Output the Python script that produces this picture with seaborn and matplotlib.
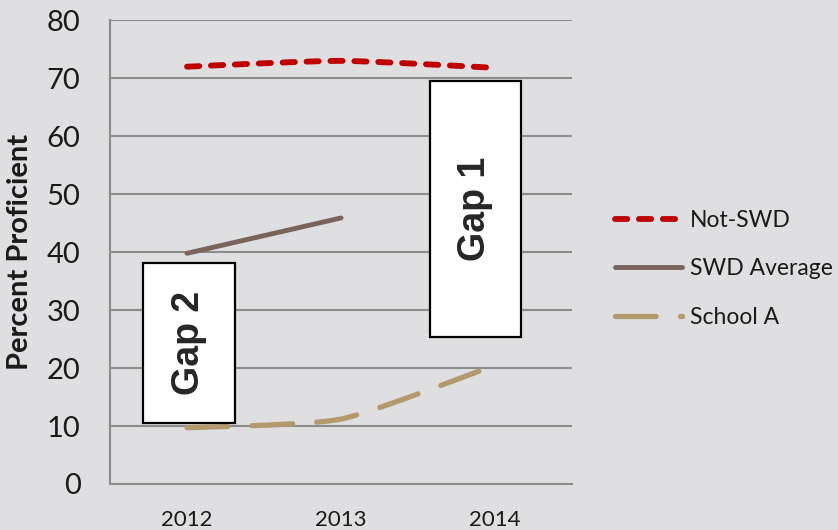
import numpy as np
import pandas as pd
import matplotlib
matplotlib.use("Agg")
import matplotlib.pyplot as plt
from matplotlib.patches import Rectangle
import seaborn as sns

# Proficiency rates by year
years = ["2012", "2013", "2014"]
not_swd = [72.0, 73.0, 71.8]
swd_average = [39.8, 45.9]
school_a = [9.7, 11.2, 20.5]

series_names = ["Not-SWD", "SWD Average", "School A"]
yticks = [0, 10, 20, 30, 40, 50, 60, 70, 80]

BG = "#dfdfe2"
GRID = "#8c8c8c"
TEXT = "#1a1a1a"

sns.set_theme(style="white")
plt.rcParams["font.family"] = ["Lato", "DejaVu Sans"]


def smooth(xs, ys, n=40):
    """Catmull-Rom curve through the points, like a smoothed spreadsheet line."""
    xs = np.asarray(xs, float)
    ys = np.asarray(ys, float)
    if len(xs) < 3:
        return xs, ys
    px = np.concatenate([[xs[0]], xs, [xs[-1]]])
    py = np.concatenate([[ys[0]], ys, [ys[-1]]])
    ox, oy = [], []
    for i in range(1, len(px) - 2):
        t = np.linspace(0, 1, n, endpoint=(i == len(px) - 3))
        for arr, out in ((px, ox), (py, oy)):
            p0, p1, p2, p3 = arr[i - 1], arr[i], arr[i + 1], arr[i + 2]
            m1 = (p2 - p0) / 2.0 * 0.6
            m2 = (p3 - p1) / 2.0 * 0.6
            h00 = 2 * t**3 - 3 * t**2 + 1
            h10 = t**3 - 2 * t**2 + t
            h01 = -2 * t**3 + 3 * t**2
            h11 = t**3 - t**2
            out.extend(h00 * p1 + h10 * m1 + h01 * p2 + h11 * m2)
    return np.array(ox), np.array(oy)


fig = plt.figure(figsize=(8.38, 5.30), dpi=100, facecolor=BG)
ax = fig.add_axes([0.1313, 0.0868, 0.5513, 0.8749])
ax.set_facecolor(BG)

frames = []
for name, vals in zip(series_names, [not_swd, swd_average, school_a]):
    xs, ys = smooth(np.arange(len(vals)), vals)
    frames.append(pd.DataFrame({"x": xs, "value": ys, "series": name}))
df = pd.concat(frames, ignore_index=True)

palette = {"Not-SWD": "#c00000", "SWD Average": "#78645a", "School A": "#b4996e"}
sns.lineplot(data=df, x="x", y="value", hue="series", palette=palette,
             sort=False, estimator=None, ax=ax, legend=False)

styles = {
    "Not-SWD": dict(lw=4.2, dashes=(2.1, 2.0)),
    "SWD Average": dict(lw=3.5, dashes=None),
    "School A": dict(lw=3.8, dashes=(7.7, 4.6)),
}
for line, name in zip(ax.get_lines(), series_names):
    st = styles[name]
    line.set_linewidth(st["lw"])
    line.set_solid_capstyle("round")
    line.set_dash_capstyle("round")
    if st["dashes"]:
        line.set_dashes(st["dashes"])

# Gap annotation boxes
for (x0, x1, y0, y1, label) in [(-0.284, 0.31, 10.6, 38.2, "Gap 2"),
                                 (1.578, 2.167, 25.4, 69.5, "Gap 1")]:
    ax.add_patch(Rectangle((x0, y0), x1 - x0, y1 - y0, facecolor="white",
                           edgecolor="black", lw=1.6, zorder=5))
    ax.text((x0 + x1) / 2, (y0 + y1) / 2, label, rotation=90, ha="center",
            va="center", fontsize=27, fontweight="bold",
            family=["Liberation Sans", "DejaVu Sans"], zorder=6)

ax.set_xlim(-0.5, 2.5)
ax.set_ylim(0, 80)
ax.set_yticks(yticks)
ax.set_yticklabels([str(v) for v in yticks], fontsize=21, color=TEXT)
ax.set_xticks(range(len(years)))
ax.set_xticklabels(years, fontsize=16, color=TEXT)
ax.set_xticks([-0.5, 0.5, 1.5, 2.5], minor=True)
ax.tick_params(axis="x", which="major", length=0, pad=19)
ax.tick_params(axis="x", which="minor", length=7, width=1.5, color=GRID, direction="out")
ax.tick_params(axis="y", length=7.2, width=1.5, color=GRID, pad=14)
ax.grid(axis="y", color=GRID, lw=1.5)
ax.set_axisbelow(True)
for side in ["top", "right"]:
    ax.spines[side].set_visible(False)
for side in ["left", "bottom"]:
    ax.spines[side].set_color(GRID)
    ax.spines[side].set_linewidth(1.5)
ax.set_xlabel("")
ax.set_ylabel("Percent Proficient", fontsize=21, fontweight="bold", color=TEXT)
ax.yaxis.set_label_coords(-0.167, 0.5)

handles = [plt.Line2D([], [], color=palette[n], lw=styles[n]["lw"],
                      solid_capstyle="round", dash_capstyle="round",
                      **({"dashes": styles[n]["dashes"]} if styles[n]["dashes"] else {}))
           for n in series_names]
fig.legend(handles, series_names, loc="center left", bbox_to_anchor=(0.734, 0.4925),
           frameon=False, fontsize=16.5, handlelength=2.9, handletextpad=0.35,
           labelspacing=1.2, borderpad=0, borderaxespad=0,
           labelcolor=TEXT)

fig.savefig("out.png", dpi=100, facecolor=BG)
